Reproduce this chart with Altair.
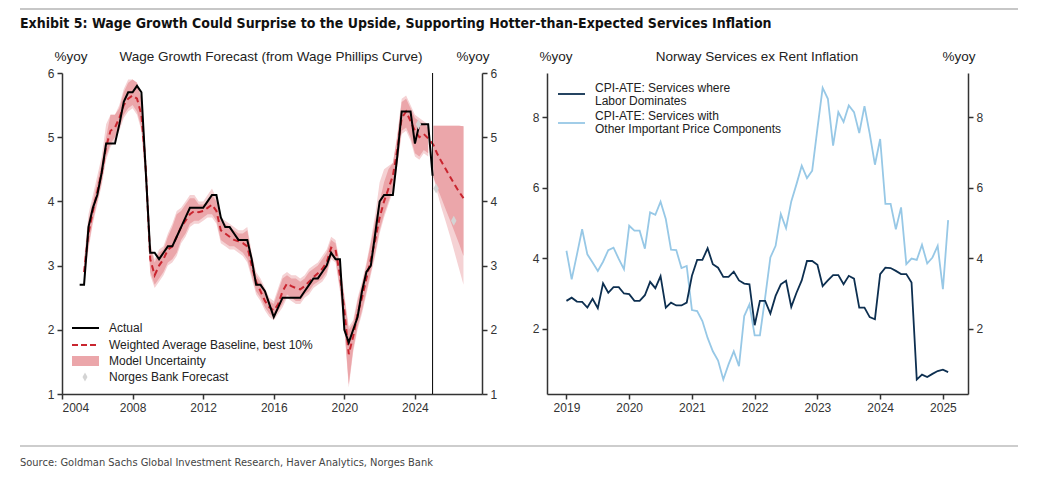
import altair as alt
import pandas as pd

# ---------------- Left panel data (wage growth, %yoy) ----------------
actual_t = [2005.0, 2005.25, 2005.5, 2005.75, 2006.0, 2006.25, 2006.5, 2006.75, 2007.0, 2007.25,
            2007.5, 2007.75, 2008.0, 2008.25, 2008.5, 2008.75, 2009.0, 2009.25, 2009.5, 2009.75,
            2010.0, 2010.25, 2010.5, 2010.75, 2011.0, 2011.25, 2011.5, 2011.75, 2012.0, 2012.25,
            2012.5, 2012.75, 2013.0, 2013.25, 2013.5, 2013.75, 2014.0, 2014.25, 2014.5, 2014.75,
            2015.0, 2015.25, 2015.5, 2015.75, 2016.0, 2016.25, 2016.5, 2016.75, 2017.0, 2017.25,
            2017.5, 2017.75, 2018.0, 2018.25, 2018.5, 2018.75, 2019.0, 2019.25, 2019.5, 2019.75,
            2020.0, 2020.25, 2020.5, 2020.75, 2021.0, 2021.25, 2021.5, 2021.75, 2022.0, 2022.25,
            2022.5, 2022.75, 2023.0, 2023.25, 2023.5, 2023.75, 2024.0, 2024.25, 2024.5, 2024.75,
            2025.0]
actual_v = [2.7, 2.7, 3.6, 3.9, 4.1, 4.45, 4.9, 4.9, 4.9, 5.2,
            5.55, 5.7, 5.7, 5.8, 5.7, 4.45, 3.2, 3.2, 3.1, 3.2,
            3.3, 3.3, 3.45, 3.6, 3.75, 3.9, 3.9, 3.9, 3.9, 4.0,
            4.1, 4.1, 3.75, 3.6, 3.6, 3.5, 3.4, 3.4, 3.4, 3.1,
            2.7, 2.7, 2.6, 2.4, 2.2, 2.35, 2.5, 2.5, 2.5, 2.5,
            2.5, 2.6, 2.7, 2.8, 2.8, 2.9, 3.0, 3.2, 3.1, 3.1,
            2.0, 1.8, 2.0, 2.2, 2.6, 2.9, 3.0, 3.5, 4.0, 4.1,
            4.1, 4.1, 4.7, 5.4, 5.4, 5.4, 4.9, 5.2, 5.2, 5.2,
            4.4]

base_t = [2005.25, 2005.5, 2005.75, 2006.0, 2006.25, 2006.5, 2006.75, 2007.0, 2007.25, 2007.5,
          2007.75, 2008.0, 2008.25, 2008.5, 2008.75, 2009.0, 2009.25, 2009.5, 2009.75, 2010.0,
          2010.25, 2010.5, 2010.75, 2011.0, 2011.25, 2011.5, 2011.75, 2012.0, 2012.25, 2012.5,
          2012.75, 2013.0, 2013.25, 2013.5, 2013.75, 2014.0, 2014.25, 2014.5, 2014.75, 2015.0,
          2015.25, 2015.5, 2015.75, 2016.0, 2016.25, 2016.5, 2016.75, 2017.0, 2017.25, 2017.5,
          2017.75, 2018.0, 2018.25, 2018.5, 2018.75, 2019.0, 2019.25, 2019.5, 2019.75, 2020.0,
          2020.25, 2020.5, 2020.75, 2021.0, 2021.25, 2021.5, 2021.75, 2022.0, 2022.25, 2022.5,
          2022.75, 2023.0, 2023.25, 2023.5, 2023.75, 2024.0, 2024.25, 2024.5, 2024.75]
base_v = [2.9, 3.5, 3.85, 4.15, 4.45, 4.85, 5.1, 5.15, 5.3, 5.5,
          5.6, 5.65, 5.6, 5.35, 4.5, 3.1, 2.85, 3.0, 3.1, 3.25,
          3.3, 3.45, 3.6, 3.7, 3.8, 3.85, 3.83, 3.85, 3.9, 3.95,
          3.85, 3.55, 3.5, 3.45, 3.4, 3.38, 3.35, 3.3, 3.0, 2.75,
          2.6, 2.45, 2.35, 2.3, 2.4, 2.6, 2.72, 2.68, 2.65, 2.63,
          2.68, 2.75, 2.82, 2.88, 2.95, 3.05, 3.28, 3.25, 2.85, 2.3,
          1.62, 1.9, 2.25, 2.5, 2.8, 3.1, 3.4, 3.75, 4.0, 4.2,
          4.4, 4.8, 5.3, 5.4, 5.25, 5.1, 5.0, 5.05, 4.98]
band_hi = [3.05, 3.7, 4.0, 4.3, 4.6, 5.0, 5.35, 5.35, 5.45, 5.7,
           5.85, 5.9, 5.85, 5.6, 4.7, 3.3, 3.05, 3.2, 3.25, 3.45,
           3.6, 3.8, 3.85, 3.95, 4.05, 4.05, 3.95, 3.95, 4.0, 4.1,
           4.0, 3.7, 3.65, 3.6, 3.55, 3.5, 3.5, 3.55, 3.15, 2.85,
           2.75, 2.6, 2.45, 2.4, 2.6, 2.8, 2.85, 2.8, 2.8, 2.75,
           2.8, 2.9, 2.95, 3.0, 3.1, 3.2, 3.4, 3.35, 3.0, 2.5,
           2.0, 2.1, 2.45, 2.7, 3.0, 3.35, 3.7, 4.0, 4.3, 4.5,
           4.6, 5.0, 5.55, 5.6, 5.45, 5.3, 5.25, 5.2, 5.15]
band_lo = [2.8, 3.3, 3.7, 4.0, 4.3, 4.7, 4.9, 5.0, 5.15, 5.35,
           5.45, 5.5, 5.4, 5.15, 4.3, 2.9, 2.7, 2.8, 2.9, 3.05,
           3.1, 3.2, 3.4, 3.5, 3.65, 3.7, 3.7, 3.75, 3.8, 3.8,
           3.7, 3.4, 3.35, 3.3, 3.3, 3.25, 3.2, 3.1, 2.85, 2.6,
           2.5, 2.35, 2.25, 2.2, 2.3, 2.4, 2.55, 2.5, 2.45, 2.45,
           2.55, 2.6, 2.7, 2.75, 2.8, 2.9, 3.15, 3.1, 2.65, 2.05,
           1.15, 1.7, 2.05, 2.3, 2.6, 2.9, 3.2, 3.55, 3.8, 4.0,
           4.2, 4.6, 5.1, 5.15, 5.0, 4.75, 4.7, 4.8, 4.75]
light_hi = [3.1, 3.8, 4.1, 4.4, 4.7, 5.2, 5.35, 5.35, 5.5, 5.75,
            5.9, 5.9, 5.85, 5.6, 4.75, 3.35, 3.1, 3.25, 3.3, 3.5,
            3.65, 3.85, 3.9, 4.0, 4.1, 4.1, 4.0, 4.0, 4.1, 4.2,
            4.05, 3.75, 3.7, 3.65, 3.6, 3.55, 3.55, 3.6, 3.2, 2.9,
            2.8, 2.65, 2.5, 2.45, 2.65, 2.85, 2.9, 2.85, 2.85, 2.8,
            2.85, 2.95, 3.0, 3.05, 3.15, 3.25, 3.45, 3.4, 3.05, 2.55,
            2.05, 2.15, 2.5, 2.75, 3.05, 3.4, 3.8, 4.3, 4.5, 4.55,
            4.6, 5.05, 5.6, 5.65, 5.5, 5.35, 5.3, 5.25, 5.2]
light_lo = [2.75, 3.25, 3.65, 3.95, 4.25, 4.65, 4.85, 4.95, 5.1, 5.3,
            5.4, 5.45, 5.35, 5.1, 4.25, 2.85, 2.65, 2.75, 2.85, 3.0,
            3.05, 3.15, 3.35, 3.45, 3.6, 3.65, 3.65, 3.7, 3.75, 3.75,
            3.65, 3.35, 3.3, 3.25, 3.25, 3.2, 3.15, 3.05, 2.8, 2.55,
            2.45, 2.3, 2.2, 2.15, 2.25, 2.35, 2.5, 2.45, 2.4, 2.4,
            2.5, 2.55, 2.65, 2.7, 2.75, 2.85, 3.1, 3.05, 2.6, 2.0,
            1.1, 1.65, 2.0, 2.25, 2.55, 2.85, 3.15, 3.5, 3.75, 3.95,
            4.15, 4.55, 5.05, 5.1, 4.95, 4.7, 4.65, 4.75, 4.7]

fc_t = [2025.05, 2025.25, 2025.5, 2025.75, 2026.0, 2026.25, 2026.5, 2026.75]
fc_base = [4.88, 4.75, 4.62, 4.5, 4.38, 4.26, 4.15, 4.05]
fc_hi = [5.18, 5.18, 5.18, 5.18, 5.18, 5.18, 5.18, 5.17]
fc_lo = [4.38, 4.22, 4.05, 3.87, 3.7, 3.52, 3.34, 3.15]
fc_light_lo = [4.38, 4.15, 3.9, 3.68, 3.45, 3.2, 2.95, 2.7]

norges_t = [2024.2, 2025.2, 2026.2]
norges_v = [5.2, 4.2, 3.7]

forecast_start = [2025.0]

left_legend = ["Actual", "Weighted Average Baseline, best 10%", "Model Uncertainty", "Norges Bank Forecast"]
left_ticks_x = [2004, 2008, 2012, 2016, 2020, 2024]
left_ticks_y = [1, 2, 3, 4, 5, 6]

# ---------------- Right panel data (monthly, Jan 2019 - Feb 2025) ----------------
labor = [2.79, 2.88, 2.77, 2.76, 2.60, 2.85, 2.58, 3.29, 3.02, 3.18, 3.18, 3.00,
         2.98, 2.79, 2.79, 2.95, 3.33, 3.15, 3.49, 2.60, 2.74, 2.66, 2.66, 2.74,
         3.50, 3.95, 3.95, 4.28, 3.83, 3.73, 3.47, 3.47, 3.62, 3.37, 3.28, 3.26,
         2.10, 2.79, 2.79, 2.43, 2.93, 3.26, 3.36, 2.62, 3.02, 3.37, 3.92, 3.92,
         3.81, 3.21, 3.37, 3.52, 3.52, 3.26, 3.50, 3.42, 2.60, 2.60, 2.33, 2.27,
         3.55, 3.73, 3.72, 3.64, 3.55, 3.55, 3.31, 0.56, 0.70, 0.63, 0.72, 0.80,
         0.84, 0.77]
other = [4.21, 3.40, 4.10, 4.82, 4.11, 3.88, 3.64, 3.90, 4.23, 4.30, 3.98, 3.69,
         4.92, 4.78, 4.78, 4.27, 5.30, 5.23, 5.60, 5.11, 4.24, 4.23, 3.72, 3.78,
         2.53, 2.50, 2.22, 1.74, 1.36, 1.10, 0.56, 0.99, 1.36, 0.94, 2.36, 2.69,
         1.81, 1.81, 2.88, 4.02, 4.35, 5.25, 4.85, 5.61, 6.10, 6.62, 6.27, 6.48,
         7.67, 8.83, 8.52, 7.19, 8.14, 7.86, 8.33, 8.14, 7.55, 8.31, 7.53, 6.65,
         7.38, 5.54, 5.54, 4.82, 5.44, 3.83, 3.99, 3.95, 4.38, 3.85, 4.02, 4.35,
         3.12, 5.08]
right_series = ["CPI-ATE: Services where Labor Dominates",
                "CPI-ATE: Services with Other Important Price Components"]
right_legend_lines = [["CPI-ATE: Services where", "Labor Dominates"],
                      ["CPI-ATE: Services with", "Other Important Price Components"]]
right_ticks_x = [2019, 2020, 2021, 2022, 2023, 2024, 2025]
right_ticks_y = [2, 4, 6, 8]

title_text = "Exhibit 5: Wage Growth Could Surprise to the Upside, Supporting Hotter-than-Expected Services Inflation"
source_text = "Source: Goldman Sachs Global Investment Research, Haver Analytics, Norges Bank"

# ---------------- styling ----------------
FONT = "Liberation Sans"
NARROW = "DejaVu Sans Condensed"
AX = "#333333"
RED = "#c9252f"
BAND = "#eba6aa"
LIGHT = "#f5d2d4"
NAVY = "#0d2f50"
SKY = "#97c8e6"

LW, LH = 420, 321
RW, RH = 421, 321

xs_left = alt.Scale(domain=[2004, 2027.8], nice=False, zero=False)
ys_left = alt.Scale(domain=[1, 6], nice=False, zero=False)


def xl(field):
    return alt.X(field, type="quantitative", scale=xs_left,
                 axis=alt.Axis(values=left_ticks_x, format="d", title=None))


def yl(field, orient="left"):
    return alt.Y(field, type="quantitative", scale=ys_left,
                 axis=alt.Axis(values=left_ticks_y, title=None, orient=orient))


act_df = pd.DataFrame({"t": actual_t, "v": actual_v})
base_df = pd.DataFrame({"t": base_t + fc_t, "v": base_v + fc_base})
band_df = pd.DataFrame({"t": base_t, "lo": band_lo, "hi": band_hi,
                        "llo": light_lo, "lhi": light_hi})
fc_df = pd.DataFrame({"t": fc_t, "lo": fc_lo, "hi": fc_hi, "llo": fc_light_lo})
nb_df = pd.DataFrame({"t": norges_t, "v": norges_v})
fs_df = pd.DataFrame({"t": forecast_start})
one = pd.DataFrame({"k": [0]})

light_area = alt.Chart(band_df).mark_area(color=LIGHT).encode(x=xl("t"), y=yl("llo"), y2="lhi")
dark_area = alt.Chart(band_df).mark_area(color=BAND).encode(x=xl("t"), y=yl("lo"), y2="hi")
fc_light = alt.Chart(fc_df).mark_area(color=LIGHT).encode(x=xl("t"), y=yl("llo"), y2="hi")
fc_dark = alt.Chart(fc_df).mark_area(color=BAND).encode(x=xl("t"), y=yl("lo"), y2="hi")
base_line = alt.Chart(base_df).mark_line(color=RED, strokeDash=[6, 4], strokeWidth=2).encode(
    x=xl("t"), y=yl("v"))
act_line = alt.Chart(act_df).mark_line(color="black", strokeWidth=2).encode(x=xl("t"), y=yl("v"))
nb_pts = alt.Chart(nb_df).mark_point(shape="M0,-1.3L0.7,0L0,1.3L-0.7,0Z", filled=True,
                                     color="#d4d4d4", size=60, opacity=1).encode(
    x=xl("t"), y=yl("v"))
vline = alt.Chart(fs_df).mark_rule(color="black", strokeWidth=1).encode(x=xl("t"))

# legend (left)
leg_l_df = pd.DataFrame({"label": left_legend, "y": [255, 272, 288, 304]})
leg_text = alt.Chart(leg_l_df).mark_text(align="left", baseline="middle", font=FONT,
                                         fontSize=12, color="#222").encode(
    x=alt.value(47), y=alt.Y("y:Q", scale=None), text="label:N")
leg_act = alt.Chart(one).mark_rule(color="black", strokeWidth=2).encode(
    x=alt.value(10), x2=alt.value(37), y=alt.value(255))
leg_base = alt.Chart(one).mark_rule(color=RED, strokeWidth=2, strokeDash=[6, 3]).encode(
    x=alt.value(10), x2=alt.value(37), y=alt.value(272))
leg_band = alt.Chart(one).mark_rect(color=BAND).encode(
    x=alt.value(10), x2=alt.value(37), y=alt.value(283), y2=alt.value(293))
leg_nb = alt.Chart(one).mark_point(shape="M0,-1.3L0.7,0L0,1.3L-0.7,0Z", filled=True,
                                   color="#d4d4d4", size=50, opacity=1).encode(
    x=alt.value(23), y=alt.value(304))

# headers (left)
hdr_l = pd.DataFrame({"txt": ["%yoy", "Wage Growth Forecast (from Wage Phillips Curve)", "%yoy"],
                      "x": [9, 209, 411]})
hdr_left = alt.Chart(hdr_l).mark_text(font=FONT, fontSize=13.5, color="#222",
                                      baseline="middle").encode(
    x=alt.X("x:Q", scale=None), y=alt.value(-16), text="txt:N")

# page title, source and separators (drawn from left panel)
title_mark = alt.Chart(pd.DataFrame({"txt": [title_text]})).mark_text(
    font=NARROW, fontSize=14, fontWeight="bold", color="#111", align="left",
    baseline="alphabetic").encode(x=alt.value(-42), y=alt.value(-45), text="txt:N")
source_mark = alt.Chart(pd.DataFrame({"txt": [source_text]})).mark_text(
    font=NARROW, fontSize=11, color="#444", align="left", baseline="middle").encode(
    x=alt.value(-42), y=alt.value(390), text="txt:N")
sep_top = alt.Chart(one).mark_rule(color="#b5b5b5", strokeWidth=1.5).encode(
    x=alt.value(-42), x2=alt.value(956), y=alt.value(-64))
sep_bot = alt.Chart(one).mark_rule(color="#bdbdbd", strokeWidth=1.5).encode(
    x=alt.value(-42), x2=alt.value(956), y=alt.value(373))

left_main = alt.layer(light_area, dark_area, fc_light, fc_dark, base_line, act_line, nb_pts, vline,
                      leg_band, leg_act, leg_base, leg_nb, leg_text, hdr_left,
                      title_mark, source_mark, sep_top, sep_bot)
left_right_axis = alt.Chart(act_df).mark_line(opacity=0).encode(x=xl("t"), y=yl("v", orient="right"))
left = alt.layer(left_main, left_right_axis).resolve_scale(y="independent").properties(
    width=LW, height=LH)

# ---------------- right panel ----------------
months = []
for i in range(len(labor)):
    months.append(2019 + i / 12)
r_df = pd.DataFrame({
    "t": months * 2,
    "v": labor + other,
    "s": [right_series[0]] * len(labor) + [right_series[1]] * len(other),
})
xs_right = alt.Scale(domain=[2018.69, 2025.4], nice=False, zero=False)
ys_right = alt.Scale(domain=[0.15, 9.25], nice=False, zero=False)


def xr(field):
    return alt.X(field, type="quantitative", scale=xs_right,
                 axis=alt.Axis(values=right_ticks_x, format="d", title=None))


def yr(field, orient="left"):
    return alt.Y(field, type="quantitative", scale=ys_right,
                 axis=alt.Axis(values=right_ticks_y, title=None, orient=orient))


r_light = alt.Chart(r_df[r_df.s == right_series[1]]).mark_line(strokeWidth=1.8, color=SKY).encode(
    x=xr("t"), y=yr("v"))
r_dark = alt.Chart(r_df[r_df.s == right_series[0]]).mark_line(strokeWidth=1.8, color=NAVY).encode(
    x=xr("t"), y=yr("v"))

leg_r_df = pd.DataFrame({"txt": right_legend_lines, "y": [15, 43]})
r_leg_text = alt.Chart(leg_r_df).mark_text(align="left", baseline="middle", font=FONT, fontSize=12,
                                           color="#222", lineHeight=12.5).encode(
    x=alt.value(48), y=alt.Y("y:Q", scale=None), text="txt")
r_leg1 = alt.Chart(one).mark_rule(color=NAVY, strokeWidth=1.8).encode(
    x=alt.value(11), x2=alt.value(38), y=alt.value(21))
r_leg2 = alt.Chart(one).mark_rule(color=SKY, strokeWidth=1.8).encode(
    x=alt.value(11), x2=alt.value(38), y=alt.value(50))

hdr_r = pd.DataFrame({"txt": ["%yoy", "Norway Services ex Rent Inflation", "%yoy"],
                      "x": [9, 210, 412]})
hdr_right = alt.Chart(hdr_r).mark_text(font=FONT, fontSize=13.5, color="#222",
                                       baseline="middle").encode(
    x=alt.X("x:Q", scale=None), y=alt.value(-16), text="txt:N")

right_main = alt.layer(r_light, r_dark, r_leg1, r_leg2, r_leg_text, hdr_right)
right_axis_r = alt.Chart(r_df).mark_line(opacity=0).encode(
    x=xr("t"), y=yr("v", orient="right"), detail="s:N")
right = alt.layer(right_main, right_axis_r).resolve_scale(y="independent").properties(
    width=RW, height=RH)

chart = alt.hconcat(left, right, spacing=65, bounds="flush").properties(
    padding={"left": 11, "top": 0, "right": 5, "bottom": 5}
).configure_view(stroke=None).configure_axis(
    grid=False, labelFont=FONT, labelFontSize=12, labelColor=AX, domainColor=AX,
    tickColor=AX, domainWidth=1.5, tickWidth=1.5, tickSize=5, labelPadding=3,
)

chart.save("out.html", embed_options={"renderer": "svg", "actions": False})
